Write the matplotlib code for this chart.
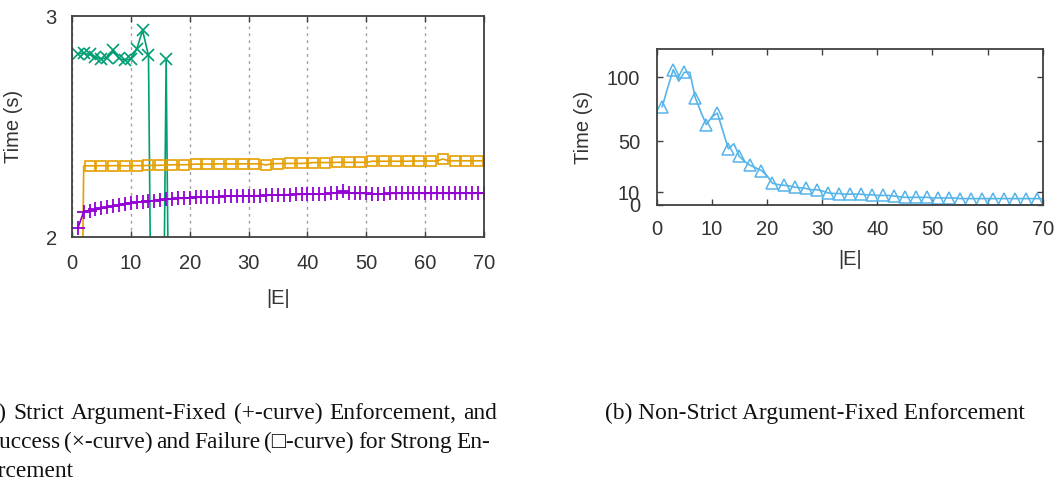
import numpy as np
import matplotlib
matplotlib.use("Agg")
import matplotlib.pyplot as plt

plt.rcParams['font.family'] = ['Liberation Sans', 'DejaVu Sans']

# (a) strict / strong enforcement timings
x_strict = np.arange(1, 71)
t_strict = [2.04, 2.115, 2.12, 2.125, 2.13, 2.135, 2.14, 2.145, 2.15, 2.155,
            2.157, 2.16, 2.163, 2.165, 2.167, 2.17, 2.172, 2.175, 2.175, 2.177,
            2.18, 2.18, 2.181, 2.182, 2.183, 2.184, 2.185, 2.185, 2.186, 2.186,
            2.187, 2.187, 2.188, 2.19, 2.191, 2.191, 2.192, 2.193, 2.193, 2.194,
            2.195, 2.195, 2.196, 2.197, 2.2, 2.206, 2.2, 2.198, 2.198, 2.197,
            2.193, 2.196, 2.194, 2.197, 2.198, 2.198, 2.198, 2.198, 2.198, 2.198,
            2.198, 2.198, 2.198, 2.198, 2.198, 2.198, 2.198, 2.198, 2.198, 2.198]

x_success = np.arange(1, 18)
t_success = [2.83, 2.832, 2.826, 2.815, 2.806, 2.812, 2.845, 2.808, 2.80, 2.806,
             2.85, 2.935, 2.822, 0, 0, 2.806, 0]

x_failure = np.arange(1, 71)
t_failure = [0, 2.322, 2.322, 2.322, 2.323, 2.322, 2.323, 2.323, 2.322, 2.323,
             2.323, 2.323, 2.324, 2.324, 2.325, 2.325, 2.327, 2.327, 2.327, 2.328,
             2.33, 2.33, 2.33, 2.33, 2.331, 2.331, 2.331, 2.331, 2.331, 2.331,
             2.331, 2.331, 2.326, 2.332, 2.332, 2.333, 2.333, 2.333, 2.333, 2.334,
             2.337, 2.337, 2.337, 2.337, 2.338, 2.338, 2.338, 2.338, 2.338, 2.338,
             2.343, 2.343, 2.343, 2.343, 2.343, 2.343, 2.343, 2.344, 2.344, 2.344,
             2.344, 2.344, 2.353, 2.345, 2.345, 2.345, 2.345, 2.345, 2.345, 2.345]

# (b) non-strict enforcement timings
x_nonstrict = np.arange(1, 71)
t_nonstrict = [77, 92, 106, 97, 104, 104, 84, 73, 63, 69,
               72, 58, 44, 48, 38, 34, 31, 29, 27, 23,
               17, 16, 15.5, 15, 14, 13.5, 13, 12, 12, 11,
               9.5, 9, 9, 8.5, 8.5, 8.5, 8.5, 8, 8, 7.5,
               7.5, 7.5, 7, 6.5, 6, 6, 6, 6, 6, 5.5,
               5.5, 5.5, 5.5, 5.5, 5, 5, 5, 5, 5, 5,
               5, 5, 5, 5, 5, 5, 5, 5, 5, 5]

x_ticks = [0, 10, 20, 30, 40, 50, 60, 70]
caption_a = ["(a) Strict Argument-Fixed (+-curve) Enforcement, and",
             "Success (\u00d7-curve) and Failure (\u25a1-curve) for Strong En-",
             "forcement"]
caption_b = "(b) Non-Strict Argument-Fixed Enforcement"

W, H = 1058, 486
fig = plt.figure(figsize=(10.58, 4.86), dpi=100)
ax1 = fig.add_axes([0.068, 0.5123, 0.3895, 0.4547])
ax2 = fig.add_axes([0.6207, 0.5782, 0.3648, 0.3204])

spine_col = '#404040'
lab_col = '#333333'

for ax in (ax1, ax2):
    for s in ax.spines.values():
        s.set_color(spine_col)
        s.set_linewidth(1.3)
    ax.tick_params(direction='in', top=True, right=True, length=4, width=1,
                   color=spine_col, labelcolor=lab_col, labelsize=14.5)
    ax.set_xlim(0, 70)
    ax.set_xticks(x_ticks)

ax1.plot(x_success, t_success, color='#009E73', lw=1.2, marker='x', ms=8,
         mew=1.2)
ax1.plot(x_failure, t_failure, color='#E69F00', lw=1.2, marker='s', ms=7.5,
         mfc='none', mew=1.2, markevery=2)
ax1.plot(x_strict, t_strict, color='#9400D3', lw=1.2, marker='+', ms=10,
         mew=1.3)
ax1.set_ylim(2, 3)
ax1.set_yticks([2, 3])
ax1.grid(axis='x', color='#a0a0a0', ls=(0, (2, 3)), lw=1)
ax1.tick_params(axis='y', length=0, pad=11)
ax1.tick_params(axis='x', pad=12)
ax1.set_ylabel('Time (s)', fontsize=14.5, color=lab_col, labelpad=16)
ax1.set_xlabel('|E|', fontsize=14.5, color=lab_col, labelpad=12)

ax2.plot(x_nonstrict, t_nonstrict, color='#56B4E9', lw=1.2, marker='^',
         ms=8, mfc='none', mew=1.1, markevery=2)
ax2.set_ylim(0, 122)
ax2.set_yticks([0, 10, 50, 100])
ax2.tick_params(axis='y', pad=12)
ax2.tick_params(axis='x', pad=11)
ax2.set_ylabel('Time (s)', fontsize=14.5, color=lab_col, labelpad=10)
ax2.set_xlabel('|E|', fontsize=14.5, color=lab_col, labelpad=8)

# captions, justified like the paper's text block
serif = ['Liberation Serif', 'DejaVu Serif', 'DejaVu Sans']
cap_kw = dict(fontsize=16.8, family=serif, color='#111111', va='baseline')
renderer = fig.canvas.get_renderer()


def justify(line, left, right, base):
    words = line.split(' ')
    arts = [fig.text(0, 1 - base / H, w, ha='left', **cap_kw) for w in words]
    widths = [a.get_window_extent(renderer).width for a in arts]
    gap = (right - left - sum(widths)) / (len(words) - 1)
    x = left
    for a, w in zip(arts, widths):
        a.set_x(x / W)
        x += w + gap


justify(caption_a[0], -20, 497, 419)
justify(caption_a[1], -14, 490, 448)
fig.text(73 / W, 1 - 477 / H, caption_a[2], ha='right', **cap_kw)
fig.text(605 / W, 1 - 419 / H, caption_b, ha='left', **cap_kw)

fig.savefig('out.png', dpi=100)
